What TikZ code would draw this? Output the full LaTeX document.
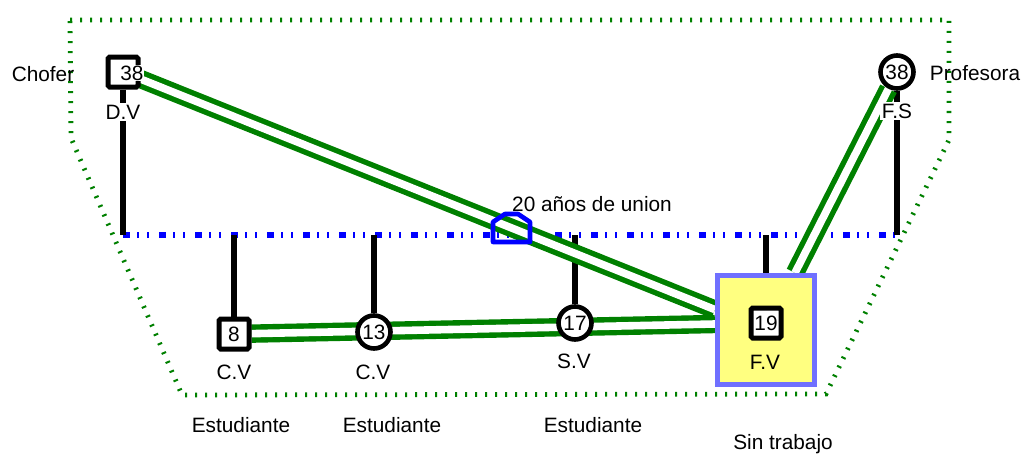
\documentclass[tikz,border=0pt]{standalone}
\usepackage{fontspec}
\setmainfont{Liberation Sans}
\usetikzlibrary{calc}
\pgfdeclarelayer{bg}
\pgfsetlayers{bg,main}
\definecolor{gr}{RGB}{0,128,0}
\definecolor{bl}{RGB}{0,0,255}
\definecolor{fvfill}{RGB}{255,255,128}
\definecolor{fvline}{RGB}{112,112,255}
\begin{document}
\begin{tikzpicture}[x=0.5pt,y=-0.5pt,
 txt/.style={font=\fontsize{10.4}{12.5}\selectfont, inner sep=1pt},
 lbl/.style={txt, fill=white},
 male/.style={draw, line width=2.5pt, rounded corners=0.8pt, minimum size=15pt, inner sep=0pt, fill=white, txt},
 female/.style={draw, circle, line width=2.3pt, minimum size=16.5pt, inner sep=0pt, fill=white, txt},
 rel/.style={draw=gr, line width=2.7pt, double=white, double distance=3.8pt},
 kin/.style={line width=2.6pt},
 bound/.style={draw=gr, line width=2.4pt, dash pattern=on 1pt off 4pt},
 marr/.style={draw=bl, line width=2.7pt, dash pattern=on 3.6pt off 3.6pt on 0.9pt off 4.1pt on 0.9pt off 4.9pt},
 sel/.style={draw=fvline, fill=fvfill, line width=2.6pt, minimum width=48.5pt, minimum height=54.5pt, inner sep=0pt},
]
\useasboundingbox (0,0) rectangle (1024,455);

% persons
\node[male] (dv) at (123,72) {};
\node[lbl, inner sep=0.3pt] (dvn) at (132,73) {38};
\node[lbl] (dvl) at (123,112) {D.V};
\node[txt] (chofer) at (43,74) {Chofer};

\node[female] (fs) at (897,72) {38};
\node[lbl] (fsl) at (897,111) {F.S};
\node[txt] (prof) at (975,73) {Profesora};

\node[txt] (union) at (592,204) {20 años de union};

\node[male] (c8) at (234,334) {8};
\node[txt] (c8l) at (234,372) {C.V};
\node[txt] (c8o) at (241,425) {Estudiante};

\node[female] (c13) at (374,332) {13};
\node[txt] (c13l) at (373,372) {C.V};
\node[txt] (c13o) at (392,425) {Estudiante};

\node[female] (c17) at (575,323) {17};
\node[txt] (c17l) at (574,361) {S.V};
\node[txt] (c17o) at (593,425) {Estudiante};

\node[sel] (fv) at (766,330) {};
\node[male] (c19) at (766,323) {19};
\node[txt] (fvl) at (765,362) {F.V};
\node[txt] (fvo) at (783,444) {Sin trabajo};

% marriage symbol
\draw[bl, line width=2.3pt, line join=round] (493,222) -- (505,214) -- (518,214) -- (530,222) -- (530,242) -- (493,242) -- cycle;

\begin{pgfonlayer}{bg}
\draw[bound] (70,20) -- (949,20) -- (949,140) -- (826,394) -- (182,395) -- (71,138) -- cycle;
\coordinate (mL) at (123,235);
\coordinate (mR) at (897,235);
\coordinate (k8) at (234,235);
\coordinate (k13) at (374,235);
\coordinate (k17) at (575,235);
\coordinate (kfv) at (766,235);
\draw[marr] (mL) -- (mR);
\draw[kin] (dv) -- (mL);
\draw[kin] (fs) -- (mR);
\draw[kin] (k8) -- (c8);
\draw[kin] (k13) -- (c13);
\draw[kin] (k17) -- (c17);
\draw[kin] (kfv) -- (fv);
\draw[rel] (dv) -- (fv);
\draw[rel] (fs) -- (fv);
\draw[rel] (c8) -- ([yshift=3pt]fv.west);
\end{pgfonlayer}
\end{tikzpicture}
\end{document}
